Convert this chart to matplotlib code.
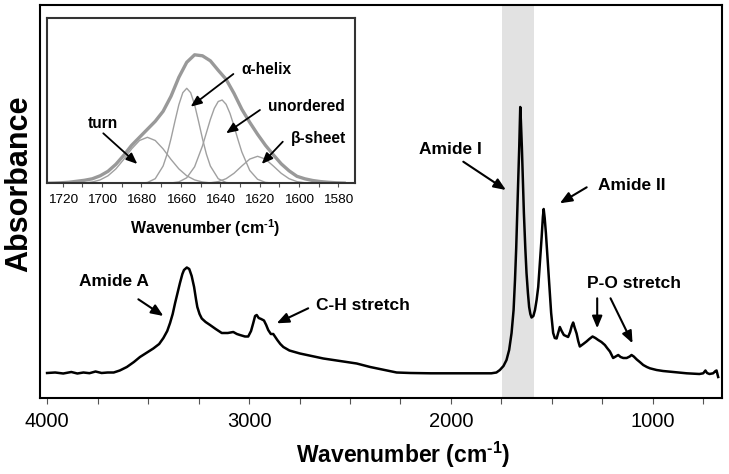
import numpy as np
import matplotlib
matplotlib.use("Agg")
import matplotlib.pyplot as plt
from matplotlib.ticker import MultipleLocator

plt.rcParams["font.family"] = ["Liberation Sans", "DejaVu Sans"]
plt.rcParams["mathtext.fontset"] = "custom"
plt.rcParams["mathtext.rm"] = "Liberation Sans:bold"
plt.rcParams["mathtext.bf"] = "Liberation Sans:bold"

# FTIR spectrum (arbitrary absorbance units)
wavenumber = [4000, 3960, 3920, 3880, 3850, 3820, 3790, 3760, 3730, 3700,
              3670, 3640, 3605, 3570, 3540, 3505, 3474, 3445, 3424, 3405,
              3391, 3378, 3366, 3354, 3342, 3330, 3322, 3308, 3296, 3284,
              3272, 3262, 3256, 3245, 3234, 3215, 3193, 3165, 3135, 3105,
              3078, 3060, 3045, 3020, 3004, 2990, 2979, 2970, 2962, 2952,
              2940, 2926, 2915, 2905, 2892, 2880, 2870, 2860, 2845, 2830,
              2800, 2748, 2690, 2632, 2550, 2467, 2400, 2340, 2302, 2269,
              2200, 2100, 2000, 1900, 1800, 1775, 1758, 1740, 1725, 1712,
              1700, 1690, 1683, 1677, 1672, 1667, 1662, 1659, 1657, 1654,
              1649, 1644, 1639, 1632, 1626, 1619, 1613, 1607, 1601, 1592,
              1584, 1576, 1568, 1560, 1551, 1545, 1541, 1536, 1530, 1522,
              1513, 1504, 1494, 1486, 1477, 1468, 1461, 1452, 1441, 1430,
              1420, 1410, 1402, 1395, 1387, 1378, 1370, 1362, 1345, 1329,
              1315, 1299, 1285, 1271, 1255, 1238, 1225, 1213, 1197, 1185,
              1172, 1160, 1147, 1130, 1115, 1106, 1095, 1080, 1065, 1048,
              1030, 1015, 982, 950, 916, 880, 833, 800, 770, 751,
              740, 732, 720, 702, 690, 685, 677]
absorbance = [25, 25.5, 24.5, 26, 24.5, 25.5, 24.8, 26.5, 25, 25.5,
              25.5, 27.5, 31, 36, 41, 45.5, 49.5, 54, 60, 67,
              75, 84, 95, 105, 115, 124, 128, 130.5, 129, 122,
              111, 98, 91, 84, 79.5, 76, 73, 69, 65, 65,
              66, 64, 63, 61.5, 61.5, 67, 75, 82, 83, 80,
              79, 77.5, 73, 68, 64, 64, 61, 58, 54, 51,
              47.5, 44.5, 42, 39.5, 37, 34.5, 31, 28.5, 27, 25.5,
              25, 24.7, 24.7, 24.8, 24.7, 25.5, 28, 32, 38, 48,
              65, 88, 118, 150, 185, 218, 251, 275, 291, 278,
              251, 218, 185, 150, 125, 105, 91, 84, 80.5, 82,
              88, 98, 111, 134, 161, 181, 189, 180, 165, 140,
              111, 85, 65, 60, 59.5, 66, 71, 67, 63, 62,
              61, 66, 72, 75.5, 70, 64.5, 57, 51.5, 54, 56.5,
              59, 61.5, 60, 58, 56, 53, 49.5, 46.5, 40, 41.5,
              43, 41, 40, 40, 41.5, 43, 41.5, 38.5, 36, 33,
              31, 29.7, 28, 27, 26.3, 25.5, 24.7, 24.3, 24, 24.7,
              27.5, 25, 24, 24.7, 27, 27.5, 21]

band_start, band_end = 1748, 1590

# amide I band deconvolution (inset)
inset_wn = np.arange(1729, 1576, -4)
envelope = [0, 0.2, 0.5, 1.0, 2.0, 3.0, 4.5, 7.5, 12, 19,
            28, 38, 46, 54, 62, 72, 87, 106, 121, 128.5,
            127.5, 122.5, 113, 104, 90, 74, 61, 49, 38, 28.5,
            19.5, 12.5, 7, 4.5, 2.8, 1.7, 1.0, 0.5, 0.2]
turn = [0, 0, 0, 0, 0.1, 0.4, 1.3, 3.4, 7.5, 14.4,
        23.9, 34.4, 42.8, 46.0, 42.8, 34.4, 23.9, 14.4, 7.5, 3.4,
        1.3, 0.4, 0.1, 0, 0, 0, 0, 0, 0, 0,
        0, 0, 0, 0, 0, 0, 0, 0, 0]
sheet = [0, 0, 0, 0, 0, 0, 0, 0, 0, 0,
         0, 0, 0, 0, 0, 0, 0, 0, 0, 0,
         0.1, 0.5, 1.7, 4.6, 10.0, 17.3, 24.2, 27, 24.2, 17.3,
         10.0, 4.6, 1.7, 0.5, 0.1, 0, 0, 0, 0]
helix_wn = [1729, 1685, 1681, 1677, 1673, 1669, 1667, 1665, 1663, 1661,
            1659, 1657, 1655, 1653, 1651, 1649, 1647, 1645, 1641, 1637,
            1633, 1629, 1577]
helix = [0, 0, 0.1, 0.8, 4.6, 17.3, 29.1, 44.6, 62.0, 78.6,
         90.6, 95, 90.6, 78.6, 62.0, 44.6, 29.1, 17.3, 4.6, 0.8,
         0.1, 0, 0]
unordered_wn = [1729, 1669, 1665, 1661, 1657, 1653, 1649, 1647, 1645, 1643,
                1641, 1639, 1637, 1635, 1633, 1631, 1629, 1625, 1621, 1617,
                1613, 1609, 1577]
unordered = [0, 0, 0.3, 1.4, 5.5, 16.5, 37.4, 50.6, 63.8, 74.9,
             81.8, 83.3, 79.0, 69.8, 57.4, 43.9, 31.3, 12.9, 4.0, 0.9,
             0.2, 0, 0]

# labels: text, text position, list of (tail, head)
main_labels = [
    ("Amide A", (3668, 116), [((3548, 98.7), (3424, 82))]),
    ("C-H stretch", (2438, 92), [((2707, 89.7), (2863, 74.7))]),
    ("Amide I", (2003, 248.5), [((1939, 236.3), (1728, 208))]),
    ("Amide II", (1104, 213), [((1328, 210.7), (1461, 194.7))]),
    ("P-O stretch", (1092, 114.5), [((1276, 99.7), (1276, 69.7)),
                                    ((1210, 99.7), (1101, 54.7))]),
]
inset_labels = [
    ("turn", (1699.8, 59.3), ((1699.4, 50), (1682.1, 19.3))),
    ("\u03b1-helix", (1616.5, 113.8), ((1633.3, 109.3), (1655, 76.6))),
    ("unordered", (1596.1, 76.8), ((1619.8, 73.3), (1637.0, 50))),
    ("\u03b2-sheet", (1590.3, 44.8), ((1608.2, 41.6), (1618.9, 19.3))),
]

fig = plt.figure(figsize=(7.29, 4.74), dpi=100)
ax = fig.add_axes([40 / 729, 1 - 398 / 474, 682 / 729, 393 / 474])

ax.axvspan(band_start, band_end, color="#e2e2e2", lw=0, zorder=0)
ax.plot(wavenumber, absorbance, color="black", lw=1.8, zorder=2)

ax.set_xlim(4035, 658)
ax.set_ylim(0, 393)
ax.xaxis.set_major_locator(MultipleLocator(1000))
ax.xaxis.set_minor_locator(MultipleLocator(250))
ax.tick_params(axis="x", which="both", direction="out", length=4, width=0.8,
               color="#555555", labelsize=14.5, pad=6)
ax.set_yticks([])
for s in ax.spines.values():
    s.set_linewidth(1.5)
    s.set_color("black")

arrow = dict(arrowstyle="-|>,head_length=0.6,head_width=0.25", color="black",
             lw=1.5, shrinkA=0, shrinkB=0, mutation_scale=12)
for text, pos, arrows in main_labels:
    ax.text(pos[0], pos[1], text, ha="center", va="center",
            fontsize=12.5, fontweight="bold")
    for tail, head in arrows:
        ax.annotate("", xy=head, xytext=tail, arrowprops=arrow)

fig.text(403 / 729, 1 - 455 / 474, r"Wavenumber (cm$^{\text{-1}}$)",
         ha="center", va="center", fontsize=16.5, fontweight="bold")
fig.text(19.5 / 729, 1 - 183.5 / 474, "Absorbance", rotation=90,
         ha="center", va="center", fontsize=22, fontweight="bold")

# inset
axi = fig.add_axes([47 / 729, 1 - 183.3 / 474, 308 / 729, 165.3 / 474])
axi.plot(inset_wn, turn, color="#a0a0a0", lw=1.0)
axi.plot(helix_wn, helix, color="#a0a0a0", lw=1.0)
axi.plot(unordered_wn, unordered, color="#a0a0a0", lw=1.0)
axi.plot(inset_wn, sheet, color="#a0a0a0", lw=1.0)
axi.plot(inset_wn, envelope, color="#999999", lw=2.4)
axi.set_xlim(1728, 1571.5)
axi.set_ylim(0, 165.3)
axi.xaxis.set_major_locator(MultipleLocator(20))
axi.xaxis.set_minor_locator(MultipleLocator(10))
axi.tick_params(axis="x", which="both", direction="out", length=3, width=0.8,
                color="#555555", labelsize=9.7, pad=5)
axi.set_yticks([])
for s in axi.spines.values():
    s.set_linewidth(1.5)
    s.set_color("#333333")

arrow_small = dict(arrowstyle="-|>,head_length=0.6,head_width=0.25",
                   color="black", lw=1.3, shrinkA=0, shrinkB=0,
                   mutation_scale=11)
for text, pos, (tail, head) in inset_labels:
    axi.text(pos[0], pos[1], text, ha="center", va="center",
             fontsize=11.2, fontweight="bold")
    axi.annotate("", xy=head, xytext=tail, arrowprops=arrow_small)

fig.text(205 / 729, 1 - 228 / 474, r"Wavenumber (cm$^{\text{-1}}$)",
         ha="center", va="center", fontsize=11.5, fontweight="bold")

fig.savefig("out.png", dpi=100)
